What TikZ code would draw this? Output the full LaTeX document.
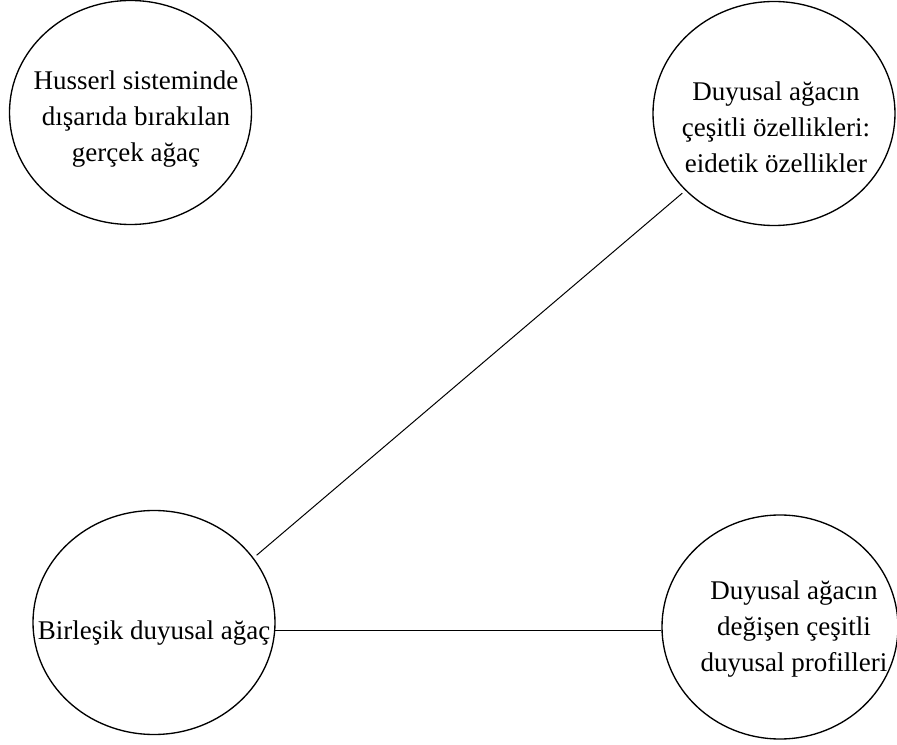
\documentclass[tikz,border=0pt]{standalone}
\usepackage{fontspec}
\setmainfont{Liberation Serif}
\usetikzlibrary{shapes.geometric}

\tikzset{
  bubble/.style={draw, ellipse, line width=1pt, minimum width=181.5pt, minimum height=168pt, inner sep=0pt},
  caption/.style={inner sep=0pt, align=center, font=\fontsize{20.25}{27}\selectfont},
  link/.style={draw, line width=0.75pt},
}

\begin{document}
\begin{tikzpicture}[x=0.75pt,y=0.75pt,yscale=-1,xscale=1]
\useasboundingbox (0,0) rectangle (897,745);

%Ellipses
\node [bubble] (husserl) at (130.5,112.5) {};
\node [bubble] (eidetik) at (774,113.5) {};
\node [bubble] (birlesik) at (154,622.5) {};
\node [bubble, minimum width=177pt] (profil) at (780,627) {};

% Text Nodes
\node [caption] (husserl-text) at (136,119) {Husserl sisteminde\\dışarıda bırakılan\\gerçek ağaç};
\node [caption] (eidetik-text) at (776,127) {Duyusal ağacın\\çeşitli özellikleri:\\eidetik özellikler};
\node [caption] (birlesik-text) at (154,633) {Birleşik duyusal ağaç};
\node [caption] (profil-text) at (794,629) {Duyusal ağacın\\değişen çeşitli\\duyusal profilleri};

%Straight Lines
\draw [link, shorten <=3, shorten >=3] (birlesik.33) -- (eidetik.221);
\draw [link] (birlesik.-4.5) -- (profil.west |- birlesik.-4.5);

\end{tikzpicture}
\end{document}
